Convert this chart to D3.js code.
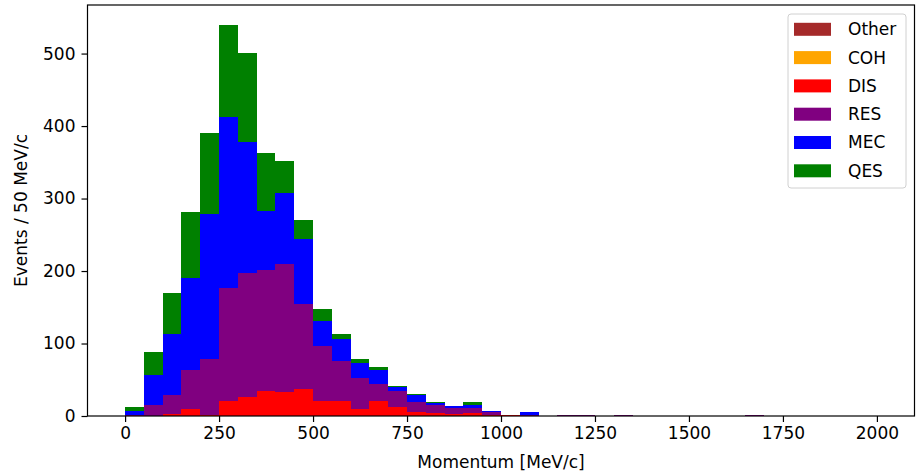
<!DOCTYPE html>
<html>
<head>
<meta charset="utf-8">
<script src="https://cdn.jsdelivr.net/npm/d3@7"></script>
<style>
  html, body { margin: 0; padding: 0; background: #fff; }
  svg { display: block; }
  text { font-family: "DejaVu Sans", sans-serif; }
</style>
</head>
<body>
<svg id="chart" width="918" height="475"></svg>
<script>
// Bin left edges (MeV/c), bin width 50
const binEdges = d3.range(0, 2000, 50);
const binWidth = 50;

// Series values per bin (Events / 50 MeV/c)
const QES = [5,31,56,91,112,128,123,80,44,27,16,7,6,4,1.5,1,1.5,0,4,0,0,0,0,0,0,0,0,0,0,0,0,0,0,0,0,0,0,0,0,0];
const MEC = [5,42,84,126,200,235,181,81,98,89,35,30,20,20,6,10,4,2.5,4.5,2,0,4,0,0,0,0,0,0,0,0,0,0,0,0,0,0,0,0,0,0];
const RES = [2,15,26,55,78,156,171,167,177,118,75,55,44,23,21.5,13,10.5,8,7,3,0,1.5,0,2,2,0,2,0,0,0,0,0,0,2,0,0,0,0,0,0];
const DIS = [0,0,3,9,1,21,26,35,33,37,21,21,9,21,13,6,4,2.7,3.7,2,2,0,0,0,0,0,0,0,0,0,0,0,0,0,0,0,0,0,0,0];
const COH = [0,0,0,0,0,0,0,0,0,0,0,0,0,0,0,0,0,0,0,0,0,0,0,0,0,0,0,0,0,0,0,0,0,0,0,0,0,0,0,0];
const Other = [0,0,0,0,0,0,0,0,0,0,0,0,0,0,0,0,0,0,0,0,0,0,0,0,0,0,0,0,0,0,0,0,0,0,0,0,0,0,0,0];

// Stack order bottom -> top
const seriesNames = ["Other", "COH", "DIS", "RES", "MEC", "QES"];
const seriesColors = ["#a52a2a", "#ffa500", "#ff0000", "#800080", "#0000ff", "#008000"];
const seriesValues = [Other, COH, DIS, RES, MEC, QES];

const xTicks = [0, 250, 500, 750, 1000, 1250, 1500, 1750, 2000];
const yTicks = [0, 100, 200, 300, 400, 500];

const rows = binEdges.map((b, i) => {
  const r = { x0: b };
  seriesNames.forEach((n, k) => { r[n] = seriesValues[k][i]; });
  return r;
});

const svg = d3.select("#chart");
const m = { left: 87.5, right: 914.5, top: 5, bottom: 416 };
const fs = 17;

const x = d3.scaleLinear().domain([-100, 2100]).range([m.left, m.right]);
const totals = rows.map(r => d3.sum(seriesNames, n => r[n]));
const yMax = d3.max(totals) * 1.05;
const y = d3.scaleLinear().domain([0, yMax]).range([m.bottom, m.top]);

const stack = d3.stack().keys(seriesNames);
const stacked = stack(rows);

const g = svg.append("g");
stacked.forEach((layer, k) => {
  g.append("g").attr("fill", seriesColors[k])
    .selectAll("rect").data(layer).join("rect")
    .attr("x", d => x(d.data.x0))
    .attr("width", d => x(d.data.x0 + binWidth) - x(d.data.x0))
    .attr("y", d => y(d[1]))
    .attr("height", d => Math.max(0, y(d[0]) - y(d[1])))
    .attr("shape-rendering", "crispEdges");
});

// Axes
const xAxis = d3.axisBottom(x).tickValues(xTicks).tickSize(6).tickPadding(5).tickFormat(d3.format("d"));
const yAxis = d3.axisLeft(y).tickValues(yTicks).tickSize(6).tickPadding(6).tickFormat(d3.format("d"));

const gx = svg.append("g").attr("transform", `translate(0,${m.bottom})`).call(xAxis);
const gy = svg.append("g").attr("transform", `translate(${m.left},0)`).call(yAxis);
[gx, gy].forEach(a => {
  a.select(".domain").remove();
  a.selectAll(".tick line").attr("stroke", "#000").attr("stroke-width", 1.2);
  a.selectAll(".tick text").attr("fill", "#000").style("font-size", fs + "px").style("font-family", "DejaVu Sans");
});

// Frame
svg.append("rect")
  .attr("x", m.left).attr("y", m.top)
  .attr("width", m.right - m.left).attr("height", m.bottom - m.top)
  .attr("fill", "none").attr("stroke", "#000").attr("stroke-width", 1.2);

// Axis labels
svg.append("text")
  .attr("x", (m.left + m.right) / 2).attr("y", 468)
  .attr("text-anchor", "middle").style("font-size", fs + "px")
  .text("Momentum [MeV/c]");
svg.append("text")
  .attr("transform", `translate(27,${(m.top + m.bottom) / 2}) rotate(-90)`)
  .attr("text-anchor", "middle").style("font-size", fs + "px")
  .text("Events / 50 MeV/c");

// Legend (top to bottom reversed order)
const legendItems = seriesNames.map((n, k) => ({ name: n, color: seriesColors[k] }));
const lg = svg.append("g");
lg.append("rect")
  .attr("x", 788).attr("y", 14).attr("width", 118).attr("height", 174)
  .attr("rx", 3).attr("fill", "#fff").attr("fill-opacity", 0.8)
  .attr("stroke", "#d0d0d0").attr("stroke-width", 1);
const rowH = 28.3;
legendItems.forEach((it, i) => {
  const cy = 29.3 + i * rowH;
  lg.append("rect").attr("x", 794).attr("y", cy - 6.5).attr("width", 37).attr("height", 13)
    .attr("fill", it.color);
  lg.append("text").attr("x", 848).attr("y", cy).attr("dy", "0.35em")
    .style("font-size", fs + "px").text(it.name);
});
</script>
</body>
</html>
